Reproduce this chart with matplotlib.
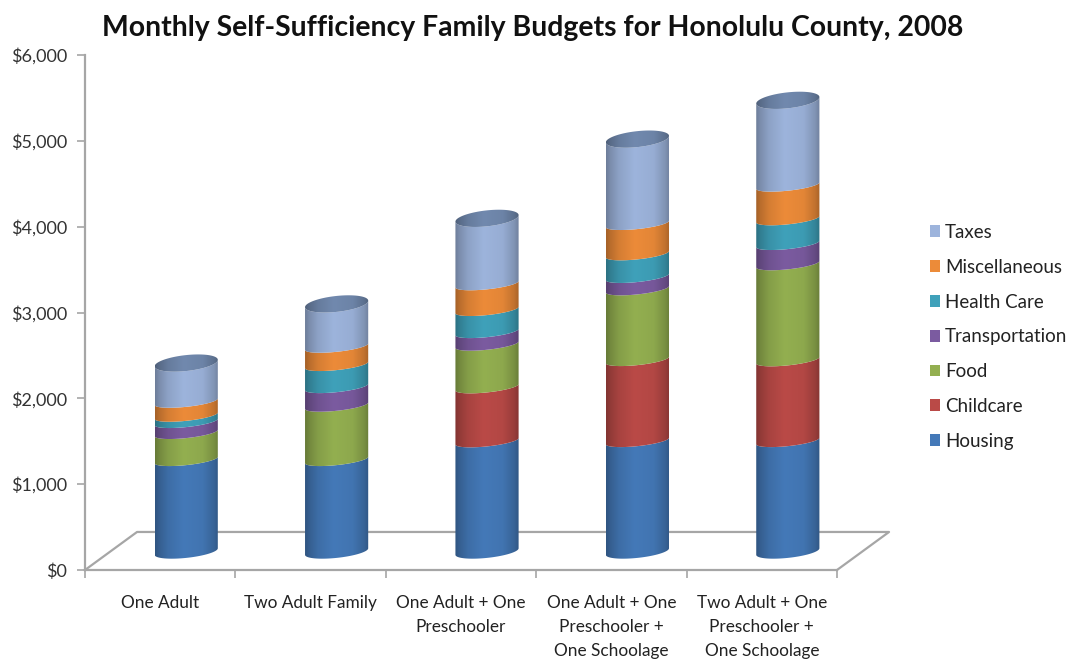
import numpy as np
import matplotlib
matplotlib.use('Agg')
import matplotlib.pyplot as plt
from matplotlib.patches import Patch, Polygon
from matplotlib.colors import to_rgb

plt.rcParams['font.family'] = ['Lato', 'DejaVu Sans']

familias = ['One Adult', 'Two Adult Family', 'One Adult + One\nPreschooler',
            'One Adult + One\nPreschooler +\nOne Schoolage',
            'Two Adult + One\nPreschooler +\nOne Schoolage']
categorias = ['Housing', 'Childcare', 'Food', 'Transportation', 'Health Care', 'Miscellaneous', 'Taxes']
housing = [1067, 1067, 1285, 1288, 1288]
childcare = [0, 0, 629, 944, 941]
food = [315, 633, 497, 824, 1119]
transportation = [128, 217, 147, 144, 236]
health_care = [73, 257, 257, 264, 288]
miscellaneous = [163, 213, 300, 353, 392]
taxes = [450, 498, 767, 988, 993]
series = [housing, childcare, food, transportation, health_care, miscellaneous, taxes]
cores = ['#4479B8', '#BA4A47', '#93AF50', '#7B5BA0', '#3FA1BA', '#EC8B39', '#9DB4DC']
cor_topo = '#7189AE'

# floor depth and cylinder shape, in axis units
prof_x, prof_y = 0.346, 443
meio_x, meio_y = prof_x / 2, 215
raio, inclina = 0.21, 38
curva_base, curva_meio, curva_topo = 74, 60, 93


def sombra(cor):
    # darker on the sides of the cylinder, brightest a little left of centre
    u = np.linspace(0, 1, 80)
    f = np.interp(u, [0, 0.06, 0.2, 0.45, 0.75, 0.93, 1], [0.70, 0.78, 0.90, 1.0, 0.96, 0.82, 0.72])
    return (np.outer(f, to_rgb(cor)))[None, :, :]


def faixa(ax, cx, y0, y1, c0, c1, cor, z):
    t = np.linspace(np.pi, 2 * np.pi, 60)
    x = cx + raio * np.cos(t)
    baixo = y0 + c0 * np.sin(t) + inclina * np.cos(t)
    cima = y1 + c1 * np.sin(t) + inclina * np.cos(t)
    pts = np.vstack([np.column_stack([x, baixo]), np.column_stack([x[::-1], cima[::-1]])])
    pol = Polygon(pts, closed=True, facecolor='none', edgecolor='none', zorder=z)
    ax.add_patch(pol)
    im = ax.imshow(sombra(cor), extent=(cx - raio, cx + raio, y0 - 200, y1 + 200),
                   aspect='auto', interpolation='bilinear', zorder=z)
    im.set_clip_path(pol)


def tampa(ax, cx, y, z):
    t = np.linspace(0, 2 * np.pi, 120)
    x = cx + raio * np.cos(t)
    yy = y + curva_topo * np.sin(t) + inclina * np.cos(t)
    pol = Polygon(np.column_stack([x, yy]), closed=True, facecolor='none', edgecolor='none', zorder=z)
    ax.add_patch(pol)
    im = ax.imshow(sombra(cor_topo), extent=(cx - raio, cx + raio, y - 200, y + 200),
                   aspect='auto', interpolation='bilinear', zorder=z)
    im.set_clip_path(pol)


fig = plt.figure(figsize=(10.68, 6.59), dpi=100)
ax = fig.add_axes([85 / 1068, (659 - 570) / 659, 752 / 1068, 515 / 659])

centros = np.arange(len(familias)) + 0.5
for i, cx in enumerate(centros):
    base = meio_y
    ativos = [(s[i], c) for s, c in zip(series, cores) if s[i] > 0]
    for j, (valor, cor) in enumerate(ativos):
        c0 = curva_base if j == 0 else curva_meio
        c1 = curva_topo if j == len(ativos) - 1 else curva_meio
        faixa(ax, cx + meio_x, base, base + valor, c0, c1, cor, 5)
        base += valor
    tampa(ax, cx + meio_x, base, 6)

# floor of the 3D plot
ax.plot([0, prof_x, 5 + prof_x, 5], [0, prof_y, prof_y, 0], color='#a6a6a6', lw=1.6, clip_on=False, zorder=2)

ax.set_xlim(0, 5)
ax.set_ylim(0, 6000)
ax.set_yticks(range(0, 7000, 1000))
ax.set_yticklabels([f'${v:,}' for v in range(0, 7000, 1000)])
ax.set_xticks(range(6))
ax.set_xticklabels([])
ax.set_xticks(centros, minor=True)
ax.set_xticklabels(familias, minor=True, linespacing=1.63, va='top')
ax.tick_params(axis='x', which='minor', length=0, pad=18, labelsize=12.4, labelcolor='#222222')
ax.tick_params(axis='x', which='major', length=6, width=1.2, color='#a6a6a6')
ax.tick_params(axis='y', length=6, width=1.2, color='#a6a6a6', pad=7, labelsize=13, labelcolor='#333333')
for lado in ['top', 'right']:
    ax.spines[lado].set_visible(False)
for lado in ['left', 'bottom']:
    ax.spines[lado].set_color('#a6a6a6')
    ax.spines[lado].set_linewidth(1.6)
ax.patch.set_alpha(0)

fig.text(533 / 1068, 1 - 36 / 659, 'Monthly Self-Sufficiency Family Budgets for Honolulu County, 2008',
         ha='center', va='baseline', fontsize=20.4, fontweight='bold', color='#111111')

alcas = [Patch(facecolor=c, edgecolor='none') for c in cores[::-1]]
fig.legend(alcas, categorias[::-1], loc='upper left', bbox_to_anchor=(913 / 1068, 1 - 207 / 659),
           frameon=False, fontsize=13.5, labelspacing=0.95, handlelength=0.55, handleheight=0.58,
           handletextpad=0.25, labelcolor='#222222')

fig.savefig('out.png', dpi=100, facecolor='white')
